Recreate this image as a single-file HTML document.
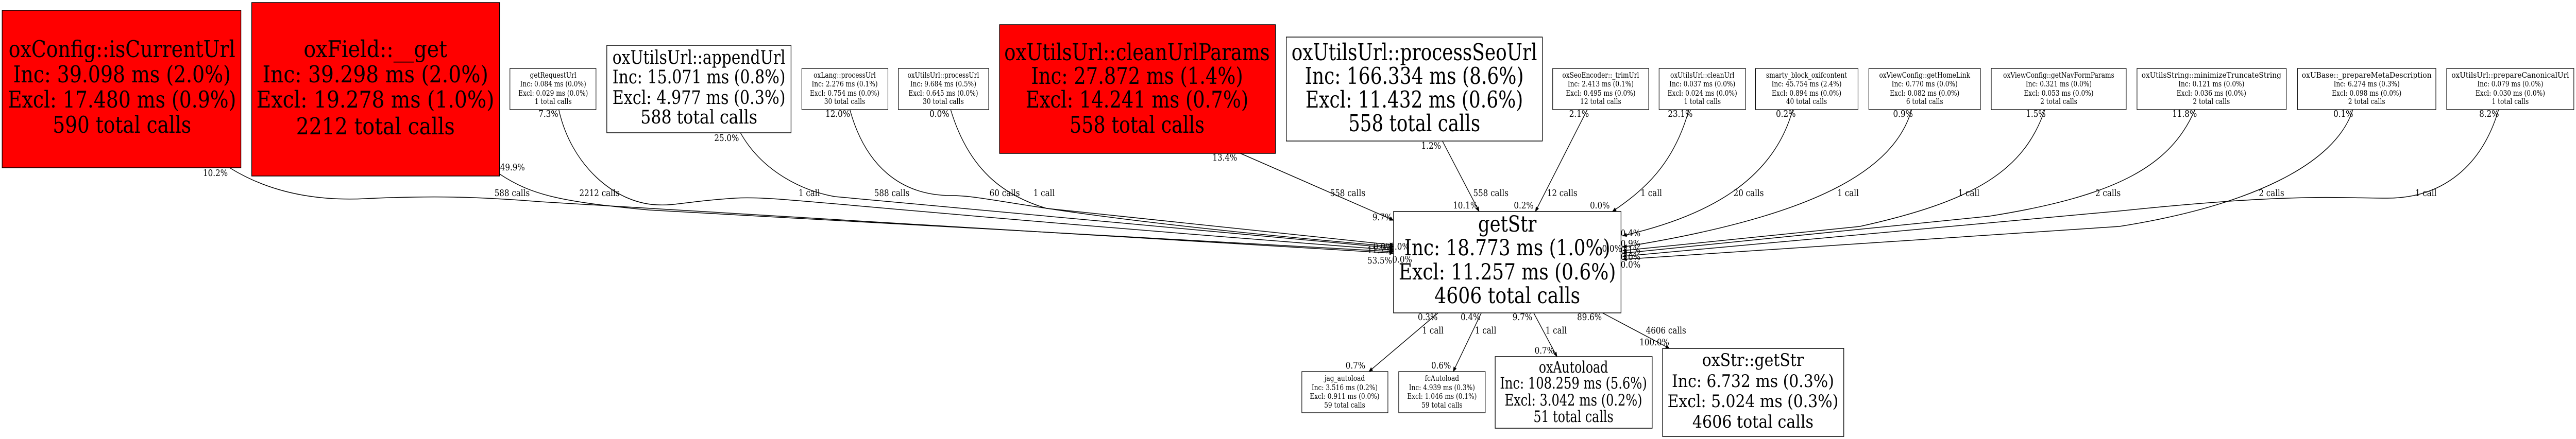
<!DOCTYPE html>
<html><head><meta charset="utf-8"><style>
html,body{margin:0;padding:0;background:#fff;width:100%;height:100%;overflow:hidden;}
svg{display:block;width:100vw;height:100vh;}
text{font-family:"DejaVu Serif","Liberation Serif",serif;fill:#000;}
.s{font-size:14.5px;text-anchor:middle;}
.l{font-size:18px;}
.e{fill:none;stroke:#000;stroke-width:1.5;}
</style></head><body>
<svg viewBox="0 0 5956 853" preserveAspectRatio="none" xmlns="http://www.w3.org/2000/svg">
<defs><marker id="a" markerWidth="10" markerHeight="8" refX="9" refY="4" orient="auto" markerUnits="userSpaceOnUse"><path d="M0,0 L10,4 L0,8 z" fill="#000"/></marker></defs>

<path class="e" marker-end="url(#a)" d="M531,326 C600,362 700,392 845,386 C1000,380 1100,382 1250,392 L3222,492"/>
<path class="e" marker-end="url(#a)" d="M1155,338 C1230,380 1300,392 1500,408 L3222,489"/>
<path class="e" marker-end="url(#a)" d="M1292,213 C1320,320 1420,395 1520,398 C1560,400 1600,390 1700,385 C1800,380 1900,400 3222,486"/>
<path class="e" marker-end="url(#a)" d="M1712,258 C1760,330 1850,370 1930,382 L3222,482"/>
<path class="e" marker-end="url(#a)" d="M1965,213 C2000,320 2080,380 2200,380 C2300,380 2400,420 3222,479"/>
<path class="e" marker-end="url(#a)" d="M2198,213 C2240,330 2320,380 2420,405 L3222,476"/>
<path class="e" marker-end="url(#a)" d="M2868,298 L3222,428"/>
<path class="e" marker-end="url(#a)" d="M3335,274 L3420,411"/>
<path class="e" marker-end="url(#a)" d="M3670,213 L3550,411"/>
<path class="e" marker-end="url(#a)" d="M3905,213 C3870,320 3800,370 3728,411"/>
<path class="e" marker-end="url(#a)" d="M4145,213 C4100,350 3950,420 3752,458"/>
<path class="e" marker-end="url(#a)" d="M4420,213 C4380,330 4200,420 3752,480"/>
<path class="e" marker-end="url(#a)" d="M4728,213 C4680,330 4570,390 4300,440 L3752,487"/>
<path class="e" marker-end="url(#a)" d="M5075,213 C5020,320 4900,380 4600,420 L3752,492"/>
<path class="e" marker-end="url(#a)" d="M5440,213 C5400,320 5200,400 4900,440 L3752,504"/>
<path class="e" marker-end="url(#a)" d="M5777,213 C5740,320 5650,385 5520,385 C5400,385 5300,375 4900,410 L3752,498"/>
<path class="e" marker-end="url(#a)" d="M3325,608 L3165,722"/>
<path class="e" marker-end="url(#a)" d="M3425,608 L3360,722"/>
<path class="e" marker-end="url(#a)" d="M3546,608 L3600,693"/>
<path class="e" marker-end="url(#a)" d="M3705,608 L3860,677"/>

<rect x="5" y="20" width="552" height="306" fill="#f00" stroke="#000" stroke-width="1.5"/>
<g style="font-size:45px" text-anchor="middle">
<text x="282" y="111" textLength="524" lengthAdjust="spacingAndGlyphs">oxConfig::isCurrentUrl</text>
<text x="282" y="160" textLength="503" lengthAdjust="spacingAndGlyphs">Inc: 39.098 ms (2.0%)</text>
<text x="282" y="209" textLength="528" lengthAdjust="spacingAndGlyphs">Excl: 17.480 ms (0.9%)</text>
<text x="282" y="258" textLength="320" lengthAdjust="spacingAndGlyphs">590 total calls</text>
</g>
<rect x="582" y="5" width="573" height="337" fill="#f00" stroke="#000" stroke-width="1.5"/>
<g style="font-size:45px" text-anchor="middle">
<text x="868" y="111" textLength="332" lengthAdjust="spacingAndGlyphs">oxField::__get</text>
<text x="868" y="160" textLength="522" lengthAdjust="spacingAndGlyphs">Inc: 39.298 ms (2.0%)</text>
<text x="868" y="209" textLength="550" lengthAdjust="spacingAndGlyphs">Excl: 19.278 ms (1.0%)</text>
<text x="868" y="261" textLength="367" lengthAdjust="spacingAndGlyphs">2212 total calls</text>
</g>
<rect x="2311" y="48" width="638" height="250" fill="#f00" stroke="#000" stroke-width="1.5"/>
<g style="font-size:45px" text-anchor="middle">
<text x="2629" y="117" textLength="614" lengthAdjust="spacingAndGlyphs">oxUtilsUrl::cleanUrlParams</text>
<text x="2629" y="163" textLength="490" lengthAdjust="spacingAndGlyphs">Inc: 27.872 ms (1.4%)</text>
<text x="2629" y="209" textLength="515" lengthAdjust="spacingAndGlyphs">Excl: 14.241 ms (0.7%)</text>
<text x="2629" y="258" textLength="312" lengthAdjust="spacingAndGlyphs">558 total calls</text>
</g>

<rect x="1403" y="88" width="426" height="170" fill="#fff" stroke="#000" stroke-width="1.5"/>
<g style="font-size:36px" text-anchor="middle">
<text x="1616" y="124" textLength="400" lengthAdjust="spacingAndGlyphs">oxUtilsUrl::appendUrl</text>
<text x="1616" y="162" textLength="400" lengthAdjust="spacingAndGlyphs">Inc: 15.071 ms (0.8%)</text>
<text x="1616" y="202" textLength="400" lengthAdjust="spacingAndGlyphs">Excl: 4.977 ms (0.3%)</text>
<text x="1616" y="240" textLength="270" lengthAdjust="spacingAndGlyphs">588 total calls</text>
</g>
<rect x="2974" y="72" width="592" height="202" fill="#fff" stroke="#000" stroke-width="1.5"/>
<g style="font-size:45px" text-anchor="middle">
<text x="3270" y="117" textLength="568" lengthAdjust="spacingAndGlyphs">oxUtilsUrl::processSeoUrl</text>
<text x="3270" y="163" textLength="506" lengthAdjust="spacingAndGlyphs">Inc: 166.334 ms (8.6%)</text>
<text x="3270" y="209" textLength="503" lengthAdjust="spacingAndGlyphs">Excl: 11.432 ms (0.6%)</text>
<text x="3270" y="255" textLength="305" lengthAdjust="spacingAndGlyphs">558 total calls</text>
</g>
<rect x="3222" y="411" width="526" height="197" fill="#fff" stroke="#000" stroke-width="1.5"/>
<g style="font-size:43px" text-anchor="middle">
<text x="3485" y="450" textLength="135" lengthAdjust="spacingAndGlyphs">getStr</text>
<text x="3485" y="496" textLength="476" lengthAdjust="spacingAndGlyphs">Inc: 18.773 ms (1.0%)</text>
<text x="3485" y="543" textLength="502" lengthAdjust="spacingAndGlyphs">Excl: 11.257 ms (0.6%)</text>
<text x="3485" y="589" textLength="337" lengthAdjust="spacingAndGlyphs">4606 total calls</text>
</g>
<rect x="3457" y="693" width="363" height="139" fill="#fff" stroke="#000" stroke-width="1.5"/>
<g style="font-size:31px" text-anchor="middle">
<text x="3638" y="724" textLength="160" lengthAdjust="spacingAndGlyphs">oxAutoload</text>
<text x="3638" y="755" textLength="340" lengthAdjust="spacingAndGlyphs">Inc: 108.259 ms (5.6%)</text>
<text x="3638" y="788" textLength="318" lengthAdjust="spacingAndGlyphs">Excl: 3.042 ms (0.2%)</text>
<text x="3638" y="820" textLength="185" lengthAdjust="spacingAndGlyphs">51 total calls</text>
</g>
<rect x="3844" y="677" width="419" height="171" fill="#fff" stroke="#000" stroke-width="1.5"/>
<g style="font-size:34px" text-anchor="middle">
<text x="4053" y="711" textLength="235" lengthAdjust="spacingAndGlyphs">oxStr::getStr</text>
<text x="4053" y="752" textLength="375" lengthAdjust="spacingAndGlyphs">Inc: 6.732 ms (0.3%)</text>
<text x="4053" y="791" textLength="395" lengthAdjust="spacingAndGlyphs">Excl: 5.024 ms (0.3%)</text>
<text x="4053" y="831" textLength="280" lengthAdjust="spacingAndGlyphs">4606 total calls</text>
</g>

<g fill="#fff" stroke="#000" stroke-width="1.3">
<rect x="1179" y="133" width="199" height="80"/>
<rect x="1854" y="133" width="199" height="80"/>
<rect x="2077" y="133" width="209" height="80"/>
<rect x="3590" y="133" width="222" height="80"/>
<rect x="3836" y="133" width="200" height="80"/>
<rect x="4059" y="133" width="237" height="80"/>
<rect x="4321" y="133" width="258" height="80"/>
<rect x="4604" y="133" width="312" height="80"/>
<rect x="4941" y="133" width="345" height="80"/>
<rect x="5312" y="133" width="320" height="80"/>
<rect x="5657" y="133" width="294" height="80"/>
<rect x="3010" y="722" width="199" height="80"/>
<rect x="3234" y="722" width="200" height="80"/>
</g>
<g class="s">
<text x="1279" y="151">getRequestUrl</text><text x="1279" y="168">Inc: 0.084 ms (0.0%)</text><text x="1279" y="186">Excl: 0.029 ms (0.0%)</text><text x="1279" y="202">1 total calls</text>
<text x="1953" y="151">oxLang::processUrl</text><text x="1953" y="168">Inc: 2.276 ms (0.1%)</text><text x="1953" y="186">Excl: 0.754 ms (0.0%)</text><text x="1953" y="202">30 total calls</text>
<text x="2181" y="151">oxUtilsUrl::processUrl</text><text x="2181" y="168">Inc: 9.684 ms (0.5%)</text><text x="2181" y="186">Excl: 0.645 ms (0.0%)</text><text x="2181" y="202">30 total calls</text>
<text x="3701" y="151">oxSeoEncoder::_trimUrl</text><text x="3701" y="168">Inc: 2.413 ms (0.1%)</text><text x="3701" y="186">Excl: 0.495 ms (0.0%)</text><text x="3701" y="202">12 total calls</text>
<text x="3936" y="151">oxUtilsUrl::cleanUrl</text><text x="3936" y="168">Inc: 0.037 ms (0.0%)</text><text x="3936" y="186">Excl: 0.024 ms (0.0%)</text><text x="3936" y="202">1 total calls</text>
<text x="4177" y="151">smarty_block_oxifcontent</text><text x="4177" y="168">Inc: 45.754 ms (2.4%)</text><text x="4177" y="186">Excl: 0.894 ms (0.0%)</text><text x="4177" y="202">40 total calls</text>
<text x="4450" y="151">oxViewConfig::getHomeLink</text><text x="4450" y="168">Inc: 0.770 ms (0.0%)</text><text x="4450" y="186">Excl: 0.082 ms (0.0%)</text><text x="4450" y="202">6 total calls</text>
<text x="4760" y="151">oxViewConfig::getNavFormParams</text><text x="4760" y="168">Inc: 0.321 ms (0.0%)</text><text x="4760" y="186">Excl: 0.053 ms (0.0%)</text><text x="4760" y="202">2 total calls</text>
<text x="5113" y="151" textLength="323" lengthAdjust="spacingAndGlyphs">oxUtilsString::minimizeTruncateString</text><text x="5113" y="168">Inc: 0.121 ms (0.0%)</text><text x="5113" y="186">Excl: 0.036 ms (0.0%)</text><text x="5113" y="202">2 total calls</text>
<text x="5472" y="151" textLength="300" lengthAdjust="spacingAndGlyphs">oxUBase::_prepareMetaDescription</text><text x="5472" y="168">Inc: 6.274 ms (0.3%)</text><text x="5472" y="186">Excl: 0.098 ms (0.0%)</text><text x="5472" y="202">2 total calls</text>
<text x="5804" y="151" textLength="272" lengthAdjust="spacingAndGlyphs">oxUtilsUrl::prepareCanonicalUrl</text><text x="5804" y="168">Inc: 0.079 ms (0.0%)</text><text x="5804" y="186">Excl: 0.030 ms (0.0%)</text><text x="5804" y="202">1 total calls</text>
<text x="3109" y="740">jag_autoload</text><text x="3109" y="758">Inc: 3.516 ms (0.2%)</text><text x="3109" y="775">Excl: 0.911 ms (0.0%)</text><text x="3109" y="792">59 total calls</text>
<text x="3334" y="740">fcAutoload</text><text x="3334" y="758">Inc: 4.939 ms (0.3%)</text><text x="3334" y="775">Excl: 1.046 ms (0.1%)</text><text x="3334" y="792">59 total calls</text>
</g>

<g class="l" text-anchor="middle">
<text x="498" y="342">10.2%</text><text x="1185" y="331">49.9%</text><text x="1268" y="227">7.3%</text>
<text x="1184" y="381">588 calls</text><text x="1386" y="381">2212 calls</text>
<text x="1680" y="274">25.0%</text><text x="1937" y="227">12.0%</text><text x="2172" y="227">0.0%</text><text x="2832" y="312">13.4%</text>
<text x="1871" y="381">1 call</text><text x="2062" y="381">588 calls</text><text x="2323" y="381">60 calls</text><text x="2414" y="381">1 call</text>
<text x="3309" y="289">1.2%</text><text x="3116" y="381">558 calls</text><text x="3447" y="381">558 calls</text><text x="3612" y="381">12 calls</text>
<text x="3818" y="381">1 call</text><text x="4043" y="381">20 calls</text><text x="4273" y="381">1 call</text>
<text x="3388" y="405">10.1%</text><text x="3523" y="405">0.2%</text><text x="3699" y="405">0.0%</text><text x="3196" y="428">9.7%</text>
<text x="3651" y="227">2.1%</text><text x="3885" y="227">23.1%</text><text x="4129" y="227">0.2%</text><text x="4400" y="227">0.9%</text>
<text x="4707" y="227">1.5%</text><text x="5051" y="227">11.8%</text><text x="5418" y="227">0.1%</text><text x="5755" y="227">8.2%</text>
<text x="4552" y="381">1 call</text><text x="4874" y="381">2 calls</text><text x="5252" y="381">2 calls</text><text x="5609" y="381">1 call</text>
<text x="3301" y="622">0.3%</text><text x="3400" y="622">0.4%</text><text x="3520" y="622">9.7%</text><text x="3675" y="622">89.6%</text>
<text x="3313" y="648">1 call</text><text x="3435" y="648">1 call</text><text x="3598" y="648">1 call</text><text x="3852" y="648">4606 calls</text>
<text x="3134" y="716">0.7%</text><text x="3332" y="716">0.6%</text><text x="3571" y="687">0.7%</text><text x="3825" y="671">100.0%</text>
<text x="3198" y="485">0.0%</text><text x="3236" y="485">1.0%</text><text x="3190" y="492">11.7%</text><text x="3190" y="512">53.5%</text><text x="3242" y="510">0.0%</text>
<text x="3770" y="459">0.4%</text><text x="3770" y="479">0.9%</text><text x="3727" y="489">0.0%</text><text x="3770" y="492">0.1%</text><text x="3770" y="505">0.0%</text><text x="3770" y="520">0.0%</text>
</g>
</svg>
</body></html>
